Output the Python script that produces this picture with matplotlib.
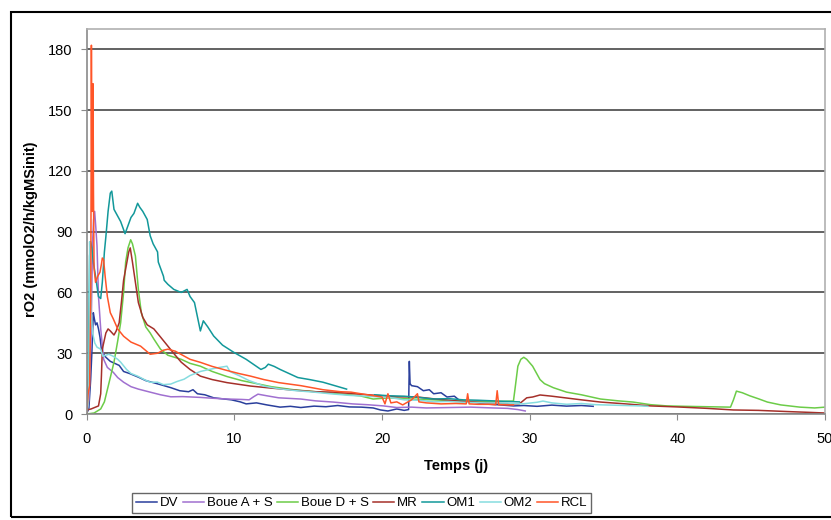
import numpy as np
import matplotlib.pyplot as plt
from matplotlib.patches import Rectangle

plt.rcParams['font.family'] = ['Liberation Sans', 'DejaVu Sans']

# Respiration rate rO2 (mmolO2/h/kgMSinit) versus time (days)
t_dv = [0.0, 0.15, 0.27, 0.35, 0.45, 0.52, 0.6, 0.7, 0.8, 0.9, 1.0, 1.1, 1.3, 1.6, 1.9, 2.2, 2.5, 2.9,
        3.5, 4.0, 4.5, 5.0, 5.7, 6.3, 6.9, 7.2, 7.5, 8.0, 8.6, 9.2, 9.8, 10.4, 10.8, 11.5, 12.2, 13.1,
        13.8, 14.5, 15.4, 16.2, 17.0, 17.8, 18.6, 19.4, 19.9, 20.4, 21.0, 21.5, 21.8, 21.85, 21.9, 22.0,
        22.4, 22.8, 23.2, 23.5, 24.0, 24.4, 24.9, 25.3, 26.1, 26.9, 27.8, 28.9, 29.6, 30.5, 31.5, 32.5,
        33.5, 34.3]
v_dv = [0, 3, 17, 30, 50, 47, 44, 45, 42, 38, 32, 30, 28, 26, 25, 24, 21, 20,
        18.2, 16.5, 15.5, 14.5, 13, 11.5, 11, 12, 10, 9.5, 8, 7.5, 7, 6, 5, 5.5, 4.5, 3.4,
        3.8, 3.2, 3.9, 3.6, 4.2, 3.5, 3.4, 3.0, 2.0, 1.5, 2.5, 1.8, 2.2, 26, 15, 14,
        13.5, 11.5, 12, 10, 10.5, 8.4, 8.8, 6.4, 6.0, 5.0, 4.6, 4.0, 4.2, 3.8, 4.4, 3.9,
        4.2, 3.8]

t_boue_a = [0, 0.15, 0.3, 0.4, 0.47, 0.54, 0.62, 0.7, 0.8, 0.95, 1.15, 1.4, 1.8, 2.1, 2.5, 3.0, 3.5,
            4.3, 5.0, 5.7, 6.5, 7.7, 8.5, 9.5, 10.5, 11.0, 11.3, 11.6, 12.2, 13.0, 14.5, 15.5, 16.7,
            18.0, 19.0, 20.1, 21.0, 22.0, 23.0, 24.5, 26.0, 27.5, 28.5, 29.2, 29.7]
v_boue_a = [0, 7, 40, 85, 96, 100, 92, 83, 58, 42, 27, 23, 20.6, 18, 15.7, 13.5, 12.3,
            10.8, 9.5, 8.5, 8.6, 8.2, 7.8, 7.4, 7.2, 7.0, 8.5, 9.8, 9.0, 8.0, 7.4, 6.5, 5.9,
            5.0, 4.6, 4.0, 3.2, 3.4, 3.0, 3.2, 3.4, 3.0, 2.8, 2.2, 1.5]

t_boue_d = [0, 0.5, 0.95, 1.2, 1.4, 1.6, 1.85, 2.1, 2.3, 2.5, 2.64, 2.8, 2.98, 3.1, 3.3, 3.5, 3.7,
            4.0, 4.3, 4.55, 5.0, 5.5, 6.4, 7.0, 7.7, 8.5, 9.5, 10.5, 11.5, 12.5, 14.0, 15.5, 17.0,
            18.5, 19.4, 20.5, 22.0, 23.5, 25.0, 26.5, 28.0, 28.9, 29.0, 29.2, 29.4, 29.6, 29.8,
            30.2, 30.7, 31.0, 31.6, 32.5, 33.5, 34.8, 36.0, 37.0, 38.2, 39.3, 40.5, 42.0, 43.6,
            43.8, 44.0, 44.4, 44.9, 45.5, 46.1, 47.0, 48.3, 49.3, 50.0]
v_boue_d = [0, 0.5, 2.5, 6, 12, 18, 25.6, 36, 45, 60, 75, 82, 86, 84, 78, 61.5, 50,
            43, 40, 37, 32, 29, 27, 25, 23.6, 21, 18.5, 16.5, 15, 13.5, 12, 11, 10,
            9, 7.4, 8, 7.4, 7, 6.5, 6.4, 6.2, 6.4, 12, 23.6, 27, 28, 27,
            23.6, 17, 15, 13, 10.8, 9.5, 7.4, 6.5, 5.9, 4.6, 4.0, 3.8, 3.6, 3.4,
            7, 11.3, 10.5, 9, 7.5, 5.9, 4.5, 3.4, 3.0, 3.4]

t_mr = [0, 0.3, 0.8, 0.95, 1.0, 1.06, 1.15, 1.3, 1.45, 1.6, 1.85, 2.0, 2.2, 2.35, 2.5, 2.7, 2.85,
        2.95, 3.1, 3.3, 3.5, 3.8, 4.1, 4.55, 5.0, 5.5, 6.0, 6.4, 7.0, 7.7, 8.5, 9.5, 11.1, 12.5,
        14.0, 15.5, 16.7, 18.5, 20.0, 21.0, 22.4, 23.5, 25.0, 26.5, 28.0, 29.3, 29.8, 30.2, 30.7,
        31.5, 32.5, 33.5, 34.8, 36.5, 38.2, 40.0, 42.0, 43.8, 45.5, 47.5, 49.0, 50.0]
v_mr = [2, 2.5, 4, 10, 19, 32, 35, 40, 42, 41, 39, 41, 45, 55, 66, 74, 80,
        82, 75, 65, 55, 47.7, 44, 42, 38, 33.5, 29, 25.6, 22, 18.7, 17, 15.5, 13.8, 12.8,
        11.8, 11, 10.8, 9.8, 9.0, 8.5, 8.4, 7.5, 6.5, 5.8, 5.2, 5.0, 8.0, 8.4, 9.4,
        8.8, 7.9, 7.0, 5.9, 5.0, 4.0, 3.5, 2.8, 2.0, 1.8, 1.2, 0.8, 0.5]

# OM1 has a gap in the record between ~17.6 and ~19.5 days
t_om1 = [0, 0.1, 0.2, 0.27, 0.35, 0.45, 0.6, 0.8, 0.95, 1.06, 1.2, 1.3, 1.45, 1.6, 1.7, 1.85, 2.0,
         2.15, 2.3, 2.5, 2.6, 2.8, 3.0, 3.2, 3.45, 3.6, 3.8, 4.1, 4.3, 4.5, 4.8, 4.85, 5.2, 5.25,
         5.5, 5.9, 6.4, 6.8, 7.0, 7.3, 7.5, 7.7, 7.9, 8.2, 8.6, 9.2, 9.95, 10.8, 11.8, 12.1, 12.3,
         12.7, 13.1, 13.7, 14.3, 15.1, 16.0, 16.8, 17.6, 18.5,
         19.5, 20.5, 21.5, 22.5, 23.5, 24.5, 25.5, 26.5, 27.5, 28.5, 29.3]
v_om1 = [3, 20, 78, 85, 82, 75, 68, 58, 57, 65, 80, 87.5, 100, 109, 110, 101, 99,
         97, 95, 91, 89, 93, 97, 99, 104, 102, 100, 96, 88, 84, 80, 75, 68, 66,
         64, 61.5, 60, 61.5, 58, 55, 48, 41, 46, 43, 38.5, 34, 30.5, 27, 22, 23, 24.6,
         23.5, 22, 20, 18, 17, 15.7, 14, 12.3, np.nan,
         9.5, 9.0, 8.8, 8.2, 7.4, 7.6, 7.0, 6.8, 6.5, 6.2, 6.0]

t_om2 = [0, 0.1, 0.15, 0.2, 0.25, 0.3, 0.4, 0.55, 0.7, 0.95, 1.1, 1.5, 1.8, 2.1, 2.3, 2.7, 3.0,
         3.45, 3.9, 4.3, 4.8, 5.2, 5.7, 6.1, 6.6, 7.0, 7.7, 8.3, 9.0, 9.5, 9.7, 10.3, 11.0, 12.0,
         13.0, 14.2, 15.4, 16.5, 17.8, 19.0, 19.9, 20.5, 21.5, 22.5, 23.5, 24.5, 25.5, 27.0, 28.5,
         29.5, 30.5, 30.9, 31.5, 32.5, 33.5, 34.5, 35.5, 36.5, 37.5, 38.0]
v_om2 = [0, 5, 17, 85, 70, 50, 40, 35, 33, 32, 28.5, 29.5, 28.5, 27, 25.6, 22, 20,
         18.7, 17, 15.7, 15.7, 14.5, 14.8, 16, 17.2, 19, 21, 22, 23, 23.6, 21, 19, 16.5, 13.8,
         12.5, 11.5, 10.8, 10, 9.2, 8.8, 8.4, 8.2, 7.0, 6.8, 6.0, 6.2, 5.8, 5.5, 5.4,
         5.0, 5.8, 6.4, 5.5, 4.8, 5.2, 4.6, 4.4, 4.2, 4.0, 3.8]

t_rcl = [0, 0.1, 0.2, 0.28, 0.32, 0.34, 0.36, 0.4, 0.43, 0.46, 0.5, 0.6, 0.75, 0.9, 1.0, 1.06, 1.15,
         1.25, 1.4, 1.6, 1.8, 2.1, 2.5, 3.0, 3.65, 4.3, 4.8, 5.2, 5.5, 6.0, 6.5, 7.0, 7.7, 8.5,
         9.5, 10.3, 11.1, 12.0, 13.0, 14.5, 16.0, 17.2, 17.9, 19.0, 20.0, 20.2, 20.4, 20.6, 21.0,
         21.4, 22.0, 22.4, 22.5, 23.0, 24.0, 25.0, 25.7, 25.8, 25.9, 26.5, 27.2, 27.7, 27.8,
         27.9, 28.5, 28.9]
v_rcl = [0, 10, 14, 60, 182, 140, 100, 120, 163, 110, 72, 65, 68, 70, 74, 77, 76,
         68, 58, 50, 47, 42, 38.4, 35.5, 33.5, 29.5, 30, 31.5, 32, 31, 29, 27, 25.5, 23.5,
         21.5, 20, 18.7, 17, 15.5, 14, 12, 11, 10.8, 9.5, 8.4, 5, 10, 5.5, 6,
         4.5, 7, 10, 6, 5.5, 5, 5.2, 5, 10, 5, 4.8, 4.8, 4.6, 11.5,
         4.6, 4.5, 4.5]

series = [
    ("DV", t_dv, v_dv, "#2a3f9c"),
    ("Boue A + S", t_boue_a, v_boue_a, "#a070d0"),
    ("Boue D + S", t_boue_d, v_boue_d, "#6ccc48"),
    ("MR", t_mr, v_mr, "#a5302a"),
    ("OM1", t_om1, v_om1, "#12989a"),
    ("OM2", t_om2, v_om2, "#86dcdf"),
    ("RCL", t_rcl, v_rcl, "#ff5528"),
]

fig = plt.figure(figsize=(8.31, 5.20), dpi=100)
ax = fig.add_axes([0.1043, 0.2038, 0.8885, 0.7404])

for name, t, v, c in series:
    ax.plot(t, v, color=c, lw=1.1, label=name)

ax.set_xlim(0, 50)
ax.set_ylim(0, 190)
ax.set_xticks(np.arange(0, 51, 10))
ax.set_yticks(np.arange(0, 181, 30))
ax.yaxis.grid(True, color="#555555", lw=1.3)
ax.set_axisbelow(True)
for s in ax.spines.values():
    s.set_color("#b0b0b0")
    s.set_linewidth(1.2)
ax.spines["left"].set_color("#8a8a8a")
ax.spines["bottom"].set_color("#8a8a8a")
ax.tick_params(axis="y", direction="out", length=4, color="#8a8a8a", labelsize=10.5, pad=6)
ax.tick_params(axis="x", direction="out", length=4, color="#8a8a8a", labelsize=10.5, pad=9)

ax.set_xlabel("Temps (j)", fontsize=10.5, fontweight="bold", labelpad=9)
ax.set_ylabel("rO2 (mmolO2/h/kgMSinit)", fontsize=10.5, fontweight="bold")
ax.yaxis.set_label_coords(-0.066, 0.48)

# outer chart border
fig.add_artist(Rectangle((11 / 831, 1 - 517 / 520), 1.0, (517 - 12) / 520,
                         transform=fig.transFigure, fill=False, ec="black", lw=1.5))

leg = fig.legend(loc="center", bbox_to_anchor=(0.435, 1 - 503 / 520), ncol=7, fontsize=9.5,
                 frameon=True, fancybox=False, handlelength=1.6, handletextpad=0.2,
                 columnspacing=0.35, borderpad=0.3, borderaxespad=0)
leg.get_frame().set_edgecolor("#404040")
leg.get_frame().set_linewidth(1.0)

fig.savefig("out.png", dpi=100)
